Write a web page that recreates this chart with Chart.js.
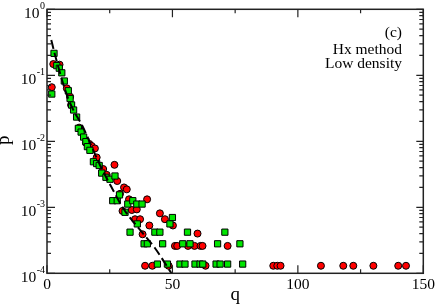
<!DOCTYPE html>
<html>
<head>
<meta charset="utf-8">
<script src="https://cdn.jsdelivr.net/npm/chart.js@4/dist/chart.umd.min.js"></script>
<style>
  html, body { margin: 0; padding: 0; background: #fff; }
  #wrap { width: 436px; height: 307px; }
</style>
</head>
<body>
<div id="wrap"><canvas id="chart"></canvas></div>
<script>

// red circles
const redQ = [1.9, 2.5, 5.0, 7.9, 9.2, 9.6, 12.8, 15.5, 16.9, 17.8, 19.1, 19.8, 22.4, 23.8, 26.9, 28.0, 29.1, 30.7, 31.8, 32.7, 39.9,
  30.1, 33.8, 35.8, 35.1, 37.1, 40.8, 38.1, 45.0, 47.0, 50.2, 60.0,
  51.0, 51.9, 56.2, 58.8, 61.2, 62.0, 72.0,
  39.1, 42.0, 48.5, 63.2, 90.2, 91.8, 93.1, 109.2, 118.1, 122.1, 130.1, 140.0, 143.1];
const redP = [0.066, 0.148, 0.145, 0.0635, 0.0474, 0.0355, 0.0161, 0.0095, 0.0091, 0.0085, 0.0078, 0.0057, 0.0038, 0.0031, 0.0044, 0.0025, 0.0016, 0.0020, 0.00187, 0.00132, 0.00132,
  0.00088, 0.00091, 0.00093, 0.00066, 0.00066, 0.00053, 0.00039, 0.00081, 0.00066, 0.00053, 0.00040,
  0.00026, 0.00026, 0.00026, 0.00026, 0.00026, 0.00026, 0.00026,
  0.00013, 0.00013, 0.00013, 0.00013, 0.00013, 0.00013, 0.00013, 0.00013, 0.00013, 0.00013, 0.00013, 0.00013, 0.00013];

// green squares
const greenQ = [1.9, 2.8, 3.9, 4.9, 5.9, 6.9, 8.5, 9.2, 9.8, 10.6, 11.8, 12.5, 13.6, 14.6, 15.5, 16.1, 17.1, 18.5, 19.8, 20.8, 21.8, 23.5, 25.1, 27.1,
  26.2, 28.0, 28.9, 32.2, 34.2, 35.8, 37.9, 31.1, 36.0, 50.0, 49.0,
  33.1, 43.0, 45.0, 56.0, 70.9,
  38.7, 40.0, 46.1, 54.1, 57.0, 68.0, 76.9,
  44.0, 48.0, 53.0, 55.0, 59.0, 61.0, 62.1, 67.4, 69.0, 72.0, 78.0];
const greenP = [0.052, 0.215, 0.14, 0.128, 0.109, 0.082, 0.0584, 0.0445, 0.0355, 0.0298, 0.0233, 0.0157, 0.0138, 0.0116, 0.0099, 0.0083, 0.0073, 0.0049, 0.0046, 0.0043, 0.0033, 0.00285, 0.00266, 0.00298,
  0.00126, 0.00126, 0.00154, 0.00112, 0.00126, 0.00112, 0.00112, 0.00084, 0.00056, 0.0007, 0.00056,
  0.00042, 0.00042, 0.00042, 0.00042, 0.00042,
  0.00028, 0.00028, 0.00028, 0.00028, 0.00028, 0.00028, 0.00028,
  0.000138, 0.000138, 0.000138, 0.000138, 0.000138, 0.000138, 0.000138, 0.000138, 0.000138, 0.000138, 0.000138];

// dashed fit curve
const fitQ = [1.7, 3.2, 8.5, 14.5, 21.1, 26.3, 30.3, 37.1, 43.0, 49.6];
const fitP = [0.343, 0.203, 0.0438, 0.0159, 0.00438, 0.00183, 0.000975, 0.000453, 0.000242, 0.0001];

// axes
const xMajor = [0, 50, 100, 150];
const xMinor = [25, 75, 125];
const yExp = [0, -1, -2, -3, -4];
const yMinorMult = [2, 3, 4, 5, 6, 7, 8, 9];

const notes = ["(c)", "Hx method", "Low density"];

const SERIF = "'Liberation Serif', 'DejaVu Serif', serif";

function toPoints(qs, ps) {
  return qs.map((q, i) => ({ x: q, y: ps[i] }));
}

const framePlugin = {
  id: "frame",
  afterDraw(chart) {
    const ctx = chart.ctx;
    const a = chart.chartArea;
    const xs = chart.scales.x;
    const ys = chart.scales.y;

    ctx.save();
    ctx.strokeStyle = "#222";
    ctx.lineWidth = 1.5;
    ctx.strokeRect(a.left, a.top, a.right - a.left, a.bottom - a.top);

    ctx.lineWidth = 1.2;
    ctx.beginPath();
    // x ticks, bottom and top, pointing in
    xMajor.concat(xMinor).forEach(v => {
      const len = xMajor.includes(v) ? 8 : 4;
      const px = xs.getPixelForValue(v);
      ctx.moveTo(px, a.bottom); ctx.lineTo(px, a.bottom - len);
      ctx.moveTo(px, a.top); ctx.lineTo(px, a.top + len);
    });
    // y ticks, left and right
    yExp.forEach(e => {
      const py = ys.getPixelForValue(Math.pow(10, e));
      ctx.moveTo(a.left, py); ctx.lineTo(a.left + 8, py);
      ctx.moveTo(a.right, py); ctx.lineTo(a.right - 7, py);
      if (e < 0) {
        yMinorMult.forEach(m => {
          const pm = ys.getPixelForValue(m * Math.pow(10, e));
          ctx.moveTo(a.left, pm); ctx.lineTo(a.left + 4, pm);
          ctx.moveTo(a.right, pm); ctx.lineTo(a.right - 4, pm);
        });
      }
    });
    ctx.stroke();

    ctx.fillStyle = "#000";
    // x tick labels
    ctx.font = "15.5px " + SERIF;
    ctx.textAlign = "center";
    ctx.textBaseline = "alphabetic";
    xMajor.forEach(v => {
      ctx.fillText(String(v), xs.getPixelForValue(v), 288.5);
    });

    // y tick labels 10^e
    yExp.forEach(e => {
      const py = ys.getPixelForValue(Math.pow(10, e));
      const exp = e === 0 ? "0" : "-" + Math.abs(e);
      ctx.textAlign = "right";
      ctx.font = "10px " + SERIF;
      const ew = ctx.measureText(exp).width;
      ctx.fillText(exp, 45, py - 0.5);
      ctx.font = "15.5px " + SERIF;
      ctx.fillText("10", 45 - ew - 0.5, py + 9);
    });

    // axis titles
    ctx.font = "19px " + SERIF;
    ctx.textAlign = "center";
    ctx.fillText("q", (a.left + a.right) / 2, 300);
    ctx.save();
    ctx.translate(9, (a.top + a.bottom) / 2 - 1);
    ctx.rotate(-Math.PI / 2);
    ctx.fillText("p", 0, 0);
    ctx.restore();

    // annotation
    ctx.font = "15.5px " + SERIF;
    ctx.textAlign = "right";
    ctx.fillText(notes[0], 402, 36.5);
    ctx.fillText(notes[1], 402, 53.5);
    ctx.fillText(notes[2], 402, 68);
    ctx.restore();
  }
};

new Chart(document.getElementById("chart"), {
  type: "scatter",
  data: {
    datasets: [
      {
        type: "line",
        label: "fit",
        data: toPoints(fitQ, fitP),
        borderColor: "#000",
        borderWidth: 2,
        borderDash: [9, 4],
        pointRadius: 0,
        fill: false,
        cubicInterpolationMode: "monotone",
        order: 0
      },
      {
        label: "green",
        data: toPoints(greenQ, greenP),
        pointStyle: "rect",
        pointRadius: 4.4,
        backgroundColor: "#00e600",
        borderColor: "#000",
        borderWidth: 1,
        order: 1
      },
      {
        label: "red",
        data: toPoints(redQ, redP),
        pointStyle: "circle",
        pointRadius: 3.5,
        backgroundColor: "#ff0000",
        borderColor: "#000",
        borderWidth: 1,
        order: 2
      }
    ]
  },
  options: {
    responsive: true,
    maintainAspectRatio: false,
    animation: false,
    events: [],
    layout: { padding: { left: 47, top: 9.3, right: 12.7, bottom: 33.7 } },
    plugins: {
      legend: { display: false },
      tooltip: { enabled: false }
    },
    scales: {
      x: { type: "linear", min: 0, max: 150, display: false },
      y: { type: "logarithmic", min: 1e-4, max: 1, display: false }
    }
  },
  plugins: [framePlugin]
});

</script>
</body>
</html>
